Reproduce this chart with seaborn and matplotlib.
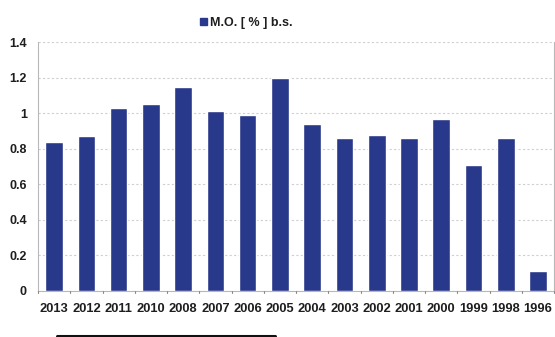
import matplotlib
matplotlib.use("Agg")
import matplotlib.pyplot as plt
from matplotlib.lines import Line2D
import seaborn as sns
import pandas as pd

# Organic matter content per year (dry basis)
years = ["2013", "2012", "2011", "2010", "2008", "2007", "2006", "2005",
         "2004", "2003", "2002", "2001", "2000", "1999", "1998", "1996"]
mo_values = [0.84, 0.87, 1.03, 1.05, 1.15, 1.01, 0.99, 1.20,
             0.94, 0.86, 0.88, 0.86, 0.97, 0.71, 0.86, 0.11]
series_name = "M.O. [ % ] b.s."
y_ticks = [0, 0.2, 0.4, 0.6, 0.8, 1, 1.2, 1.4]
y_tick_labels = ["0", "0.2", "0.4", "0.6", "0.8", "1", "1.2", "1.4"]

df = pd.DataFrame({"year": years, "value": mo_values})

sns.set_theme(style="white")
plt.rcParams["font.family"] = ["Liberation Sans", "DejaVu Sans"]

bar_color = "#28388a"
text_color = "#1e1e1e"

fig = plt.figure(figsize=(5.55, 3.37), dpi=100)
ax = fig.add_axes([0.0685, 0.137, 0.93, 0.738])

sns.barplot(data=df, x="year", y="value", order=years, color=bar_color,
            width=0.545, saturation=1, ax=ax, zorder=3)

ax.set_xlim(-0.5, len(years) - 0.5)
ax.set_ylim(0, 1.4)
ax.set_yticks(y_ticks)
ax.set_yticklabels(y_tick_labels)
ax.set_xlabel("")
ax.set_ylabel("")

ax.yaxis.grid(True, color="#cfcfcf", linestyle=(0, (2, 2)), linewidth=0.8, zorder=0)
ax.xaxis.grid(False)

ax.spines["top"].set_visible(False)
for side in ["left", "right", "bottom"]:
    ax.spines[side].set_color("#b8b8b8")
    ax.spines[side].set_linewidth(0.8)

ax.tick_params(axis="x", length=0, pad=9, labelsize=9.3, labelcolor=text_color)
ax.tick_params(axis="y", length=3, pad=5, labelsize=9, labelcolor=text_color,
               color="#b8b8b8", width=0.8)
for lbl in ax.get_xticklabels() + ax.get_yticklabels():
    lbl.set_fontweight("bold")

# Small tick marks between categories on the baseline
for i in range(len(years) + 1):
    ax.plot([i - 0.5, i - 0.5], [0, -0.012], color="#8a8a8a", lw=0.8,
            clip_on=False, zorder=4)

# Legend entry above the plot
handle = plt.Rectangle((0, 0), 1, 1, color=bar_color)
fig.legend([handle], [series_name], loc="center", bbox_to_anchor=(0.443, 0.932),
           frameon=False, handlelength=0.6, handleheight=0.6, handletextpad=0.2,
           prop={"weight": "bold", "size": 9})
for t in fig.legends[0].get_texts():
    t.set_color(text_color)

# Dark rule at the bottom edge of the figure
fig.add_artist(Line2D([0.102, 0.495], [0.004, 0.004], color="#111111", lw=2.2))

fig.savefig("out.png", dpi=100, facecolor="white")
